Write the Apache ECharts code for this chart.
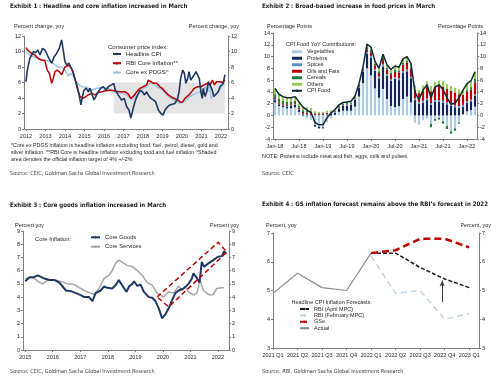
<!DOCTYPE html>
<html><head><meta charset="utf-8">
<script src="https://cdn.jsdelivr.net/npm/echarts@6/dist/echarts.min.js"></script>
<style>html,body{margin:0;padding:0;background:#fff}#c{width:500px;height:387px}</style>
</head><body><div id="c"></div>
<script>
// ---------- Exhibit 1 data (decimal year, % yoy) ----------
const years1 = [2012,2013,2014,2015,2016,2017,2018,2019,2020,2021,2022];
const headlineCPI = [[2012.0,6.1],[2012.07,7.6],[2012.2,9.1],[2012.38,10.0],[2012.5,9.85],[2012.6,10.2],[2012.72,9.55],[2012.85,10.4],[2012.97,10.2],[2013.06,10.0],[2013.2,9.0],[2013.32,8.5],[2013.44,9.3],[2013.57,9.75],[2013.71,10.4],[2013.83,11.5],[2013.91,10.2],[2014.0,8.7],[2014.09,8.25],[2014.2,8.5],[2014.3,8.0],[2014.43,7.2],[2014.53,7.0],[2014.63,5.5],[2014.74,4.2],[2014.82,3.1],[2014.9,4.2],[2014.97,5.0],[2015.08,5.25],[2015.2,4.8],[2015.28,5.25],[2015.38,5.0],[2015.49,3.75],[2015.59,3.95],[2015.71,4.8],[2015.83,5.25],[2015.97,5.45],[2016.1,5.0],[2016.22,5.45],[2016.39,5.7],[2016.5,5.9],[2016.58,5.0],[2016.73,4.4],[2016.9,3.75],[2017.04,3.95],[2017.16,2.9],[2017.28,2.45],[2017.38,1.4],[2017.5,2.7],[2017.62,3.75],[2017.73,4.4],[2017.85,5.0],[2017.97,4.8],[2018.07,4.4],[2018.19,4.8],[2018.27,4.4],[2018.41,3.95],[2018.53,3.75],[2018.65,3.5],[2018.79,2.45],[2018.92,2.0],[2019.04,1.8],[2019.13,2.45],[2019.27,2.9],[2019.38,3.1],[2019.5,3.2],[2019.64,3.3],[2019.78,3.95],[2019.85,4.8],[2019.93,6.5],[2020.04,7.6],[2020.12,7.2],[2020.2,5.9],[2020.29,6.5],[2020.36,7.4],[2020.45,6.3],[2020.55,6.5],[2020.63,7.0],[2020.72,7.4],[2020.8,7.6],[2020.89,6.5],[2020.97,4.8],[2021.04,3.95],[2021.09,5.25],[2021.18,4.2],[2021.27,4.8],[2021.35,6.1],[2021.44,5.9],[2021.52,5.25],[2021.64,4.2],[2021.74,4.4],[2021.86,4.8],[2021.95,5.45],[2022.04,5.7],[2022.12,5.9],[2022.2,7.0]];
const rbiCore = [[2012.0,10.5],[2012.12,10.1],[2012.29,9.75],[2012.46,9.55],[2012.63,9.1],[2012.8,8.9],[2012.97,8.8],[2013.09,7.6],[2013.2,7.2],[2013.32,5.9],[2013.4,6.5],[2013.49,7.4],[2013.6,7.6],[2013.71,7.4],[2013.83,7.0],[2013.91,6.75],[2014.0,8.0],[2014.09,8.0],[2014.2,8.25],[2014.29,8.4],[2014.39,7.6],[2014.51,6.5],[2014.63,5.25],[2014.77,4.2],[2014.9,3.95],[2015.03,4.1],[2015.2,4.4],[2015.37,4.6],[2015.54,4.4],[2015.71,4.7],[2015.88,4.8],[2016.1,4.95],[2016.3,5.0],[2016.56,4.9],[2016.82,4.8],[2017.08,4.8],[2017.25,4.5],[2017.38,3.95],[2017.5,4.2],[2017.68,4.8],[2017.85,5.25],[2018.02,5.45],[2018.19,5.7],[2018.27,6.3],[2018.41,6.1],[2018.53,5.9],[2018.7,5.9],[2018.87,5.45],[2018.99,5.25],[2019.13,4.8],[2019.3,4.4],[2019.47,4.1],[2019.64,3.9],[2019.78,3.75],[2019.9,3.5],[2020.04,3.5],[2020.15,3.95],[2020.24,3.75],[2020.36,4.4],[2020.5,4.8],[2020.63,5.25],[2020.8,5.45],[2020.97,5.45],[2021.14,5.7],[2021.32,5.9],[2021.44,5.7],[2021.56,6.3],[2021.66,5.7],[2021.78,6.1],[2021.95,6.1],[2022.07,6.0],[2022.2,6.3]];
const coreExPDGS = [[2012.0,10.0],[2012.2,9.55],[2012.46,9.3],[2012.72,9.0],[2012.97,8.9],[2013.23,8.7],[2013.4,8.5],[2013.6,8.0],[2013.83,8.0],[2014.0,7.6],[2014.17,6.85],[2014.29,7.2],[2014.43,6.85],[2014.56,6.1],[2014.74,5.7],[2014.9,5.45],[2015.1,5.4],[2015.37,5.0],[2015.63,5.25],[2015.88,5.35],[2016.15,5.25],[2016.39,5.1],[2016.65,4.8],[2016.99,4.6],[2017.25,4.2],[2017.42,3.75],[2017.59,4.1],[2017.8,4.6],[2018.02,5.25],[2018.19,5.45],[2018.36,5.9],[2018.53,6.0],[2018.7,5.45],[2018.87,5.25],[2019.04,5.0],[2019.21,4.4],[2019.38,4.1],[2019.55,3.8],[2019.72,3.5],[2019.9,3.3],[2020.07,3.5],[2020.24,3.75],[2020.41,4.2],[2020.58,4.4],[2020.75,4.6],[2020.92,4.8],[2021.09,5.0],[2021.21,5.45],[2021.32,4.8],[2021.4,5.9],[2021.49,3.95],[2021.61,4.4],[2021.78,4.6],[2021.95,5.25],[2022.12,5.7],[2022.2,5.7]];
const targetBand = [2016.5, 2022.2]; // years
const targetRange = [2, 6];         // % (4% +/- 2%)

// ---------- Exhibit 2 data (percentage points) ----------
const months = ['Jan-18','Feb-18','Mar-18','Apr-18','May-18','Jun-18','Jul-18','Aug-18','Sep-18','Oct-18','Nov-18','Dec-18',
 'Jan-19','Feb-19','Mar-19','Apr-19','May-19','Jun-19','Jul-19','Aug-19','Sep-19','Oct-19','Nov-19','Dec-19',
 'Jan-20','Feb-20','Mar-20','Apr-20','May-20','Jun-20','Jul-20','Aug-20','Sep-20','Oct-20','Nov-20','Dec-20',
 'Jan-21','Feb-21','Mar-21','Apr-21','May-21','Jun-21','Jul-21','Aug-21','Sep-21','Oct-21','Nov-21','Dec-21',
 'Jan-22','Feb-22','Mar-22'];
const vegetables = [2.2,1.6,1.4,1.2,1.2,1.4,0.6,-0.2,-0.5,-0.8,-1.6,-1.9,-2.0,-1.2,-0.5,0.1,0.6,0.8,0.8,0.8,1.5,3.2,5.5,8.0,6.8,4.6,3.0,4.5,2.8,1.6,1.4,1.6,2.8,3.2,2.2,-1.2,-1.6,-0.8,-0.6,-1.4,-0.6,-0.4,-1.0,-1.8,-2.7,-2.2,-1.2,0.2,0.7,0.9,1.5];
const proteins = [0.4,0.3,0.2,0.3,0.4,0.4,0.4,0.2,0.1,0.0,-0.3,-0.3,-0.2,0.1,0.3,0.4,0.6,0.8,0.9,1.0,1.2,1.5,1.9,2.5,3.0,3.0,3.3,3.8,3.9,4.3,4.8,4.4,4.4,4.3,4.1,2.6,2.0,2.2,2.6,1.8,2.3,2.3,2.2,1.9,1.6,1.4,1.3,1.3,1.4,1.5,1.8];
const spices = [0.2,0.1,0.1,0.1,0.1,0.1,0.1,0.1,0.1,0.1,0.1,0.1,0.1,0.1,0.1,0.1,0.1,0.1,0.1,0.1,0.1,0.1,0.2,0.3,0.3,0.3,0.3,0.4,0.3,0.3,0.3,0.3,0.3,0.3,0.3,0.3,0.3,0.3,0.3,0.3,0.3,0.3,0.3,0.3,0.3,0.3,0.3,0.3,0.3,0.3,0.3];
const oilsFats = [0.2,0.2,0.2,0.2,0.2,0.2,0.2,0.3,0.3,0.3,0.2,0.2,0.2,0.2,0.1,0.1,0.1,0.1,0.1,0.1,0.1,0.1,0.2,0.4,0.6,0.6,0.6,0.7,0.8,0.8,0.9,1.0,1.1,1.2,1.3,1.4,1.5,1.7,1.9,2.0,2.2,2.4,2.4,2.3,2.3,2.2,2.0,1.7,1.6,1.7,2.0];
const cereals = [0.6,0.6,0.6,0.5,0.4,0.4,0.3,0.3,0.3,0.3,0.2,0.1,0.1,0.1,0.1,0.1,0.2,0.2,0.2,0.2,0.2,0.3,0.2,0.4,0.4,0.3,0.3,0.4,0.3,0.3,0.4,0.3,0.3,0.3,0.2,0.1,0.0,0.1,0.1,-0.6,-0.3,-0.3,-0.4,-0.5,-0.4,-0.4,-0.2,0.0,0.3,0.4,0.6];
const others = [1.0,0.8,0.7,0.7,0.7,0.7,0.7,0.5,0.6,0.6,0.2,0.2,0.2,0.3,0.3,0.2,0.2,0.2,0.2,0.2,0.2,0.2,0.2,0.5,0.5,0.4,0.5,0.6,0.5,0.5,0.6,0.6,0.7,0.7,0.7,0.7,0.5,0.8,0.9,0.9,0.9,0.9,0.9,0.8,0.8,0.8,0.8,0.8,1.1,1.1,1.2];
const cpiFood = [4.6,3.6,3.2,3.0,3.0,3.2,2.3,1.4,0.9,0.5,-1.2,-1.6,-1.6,-0.4,0.4,1.0,1.8,2.2,2.3,2.4,3.3,5.4,8.2,12.1,11.6,9.2,8.0,10.4,8.6,7.8,8.4,8.2,9.6,10.0,8.8,3.9,2.7,4.3,5.2,3.0,4.8,5.2,4.4,3.0,1.9,2.1,3.0,4.3,5.4,5.9,7.4];

// ---------- Exhibit 3 data (decimal year, % yoy) ----------
const years3 = [2015,2016,2017,2018,2019,2020,2021,2022];
const coreGoods = [[2015.0,5.2],[2015.16,5.5],[2015.3,5.5],[2015.46,5.65],[2015.64,5.45],[2015.88,5.3],[2016.06,5.3],[2016.24,5.1],[2016.48,4.5],[2016.66,4.45],[2016.84,4.3],[2017.02,4.15],[2017.14,4.0],[2017.32,4.0],[2017.44,3.7],[2017.56,4.3],[2017.74,4.5],[2017.86,4.8],[2017.98,4.7],[2018.16,4.65],[2018.28,4.9],[2018.4,5.3],[2018.52,4.9],[2018.68,4.4],[2018.77,4.8],[2018.89,5.0],[2018.95,5.2],[2019.07,4.85],[2019.19,4.95],[2019.31,4.4],[2019.49,4.0],[2019.61,3.95],[2019.73,3.7],[2019.85,3.15],[2019.97,2.4],[2020.09,2.7],[2020.21,3.15],[2020.33,3.75],[2020.45,4.3],[2020.57,4.5],[2020.75,4.65],[2020.93,5.0],[2021.05,5.4],[2021.11,5.8],[2021.23,5.45],[2021.33,5.1],[2021.41,6.65],[2021.5,6.3],[2021.65,6.55],[2021.83,6.8],[2022.0,7.05],[2022.14,7.1],[2022.22,7.45],[2022.3,7.3]];
const coreServices = [[2015.0,5.4],[2015.16,5.5],[2015.34,5.4],[2015.52,5.1],[2015.64,5.0],[2015.82,5.3],[2016.06,5.3],[2016.36,5.15],[2016.54,5.0],[2016.72,5.0],[2016.9,4.8],[2017.14,4.5],[2017.38,4.3],[2017.5,4.2],[2017.68,4.65],[2017.86,5.4],[2018.04,5.65],[2018.16,6.0],[2018.28,6.55],[2018.4,6.8],[2018.52,6.65],[2018.7,6.4],[2018.89,6.3],[2019.07,6.0],[2019.25,5.65],[2019.43,5.1],[2019.61,4.9],[2019.79,4.3],[2019.91,4.15],[2020.03,4.0],[2020.21,4.4],[2020.39,4.3],[2020.57,4.85],[2020.69,4.5],[2020.81,4.8],[2020.93,4.4],[2021.11,4.15],[2021.23,4.3],[2021.35,5.3],[2021.47,4.5],[2021.59,4.3],[2021.71,4.15],[2021.83,4.2],[2021.95,4.65],[2022.13,4.7],[2022.22,4.7]];
const trendBox = [[2019.79,4.01],[2022.01,8.15],[2022.32,7.4],[2020.21,3.26],[2019.79,4.01]];

// ---------- Exhibit 4 data (% yoy, quarterly) ----------
const quarterLabels = ['2021 Q1','2021 Q2','2021 Q3','2021 Q4','2022 Q1','2022 Q2','2022 Q3','2022 Q4','2023 Q1'];
const actual = [4.9,5.6,5.1,5.0,6.3];          // 2021 Q1 .. 2022 Q1
const rbiApril = [6.3,6.3,5.8,5.4,5.1];        // 2022 Q1 .. 2023 Q1
const rbiFeb = [6.2,4.9,5.0,4.0,4.2];          // 2022 Q1 .. 2023 Q1
const gsForecast = [6.3,6.4,6.8,6.8,6.5];      // 2022 Q1 .. 2023 Q1
const forecastStart = 4;
const arrowAt = 6.9, arrowRange = [4.6, 5.35];

// ---------- chart ----------
const SANS = "'Liberation Sans', Arial, sans-serif";
const NARROW = "'Liberation Sans Narrow', 'Arial Narrow', 'DejaVu Sans Condensed', sans-serif";
const AX = '#808080', TXT = '#262626';

function yAx(gi, min, max, interval, pos) {
  return { type:'value', gridIndex:gi, position:pos, min, max, interval,
    splitLine:{show:false},
    axisLine:{show:true, onZero:false, lineStyle:{color:AX, width:1}},
    axisTick:{show:true, length:2, lineStyle:{color:AX}},
    axisLabel:{fontSize:5.5, color:TXT, margin:3, fontFamily:SANS} };
}
function xVal(gi, min, max, ticks, fmt) {
  return { type:'value', gridIndex:gi, min, max,
    splitLine:{show:false},
    axisLine:{show:true, onZero:false, lineStyle:{color:AX, width:1}},
    axisTick:{show:true, length:2, customValues:ticks, lineStyle:{color:AX}},
    axisLabel:{customValues:ticks, formatter:fmt, fontSize:5.5, color:TXT, margin:4, fontFamily:SANS} };
}
function txt(text, pos, size, extra) {
  return Object.assign({ text, padding:0, itemGap:0,
    textStyle:Object.assign({ fontSize:size, fontWeight:'normal', color:TXT, fontFamily:SANS }, (extra && extra.ts) || {}) }, pos);
}
function line(name, data, xi, yi, color, width, type, z) {
  return { type:'line', name, data, xAxisIndex:xi, yAxisIndex:yi, symbol:'none', silent:true, z:z||2,
    lineStyle:{color, width, type:type||'solid'}, itemStyle:{color} };
}
function bar(name, data, color) {
  return { type:'bar', name, data, xAxisIndex:1, yAxisIndex:2, stack:'food', barWidth:'55%',
    itemStyle:{color}, silent:true };
}
const legendText = (fs, lh) => ({ fontSize:fs, lineHeight:lh, color:TXT, fontFamily:SANS });
const bold = { fontWeight:'bold', fontFamily:NARROW, color:'#1a1a1a' };
const src = { fontFamily:NARROW, color:'#404040' };

const option = {
  animation:false,
  backgroundColor:'#fff',
  title:[
    txt('Exhibit 1 : Headline and core inflation increased in March', {left:10, top:3}, 6.1, {ts:bold}),
    txt('Exhibit 2 : Broad-based increase in food prices in March', {left:262, top:3}, 6.1, {ts:bold}),
    txt('Exhibit 3 : Core goods inflation increased in March', {left:10, top:202}, 6.1, {ts:bold}),
    txt('Exhibit 4 : GS inflation forecast remains above the RBI\u2019s forecast in 2022', {left:262, top:201.5}, 6.1, {ts:bold}),
    txt('Percent change, yoy', {left:14, top:23.5}, 5.5),
    txt('Percent change, yoy', {right:261, top:23.5}, 5.5),
    txt('Percentage Points', {left:267, top:23}, 5.5),
    txt('Percentage Points', {right:17, top:23}, 5.5),
    txt('Percent yoy', {left:15, top:222}, 5.5),
    txt('Percent yoy', {right:261, top:222}, 5.5),
    txt('Percent, yoy', {left:266, top:222.5}, 5.5),
    txt('Percent, yoy', {right:9, top:222.5}, 5.5),
    txt('*Core ex PDGS inflation is headline inflation excluding food, fuel, petrol, diesel, gold and\nsilver inflation. **RBI Core is headline inflation excluding food and fuel inflation ^Shaded\narea denotes the official inflation target of 4% +/-2%', {left:11, top:142.6}, 5.3, {ts:{lineHeight:6.8}}),
    txt('NOTE: Proteins include meat and fish, eggs, milk and pulses.', {left:262, top:154}, 5.4),
    txt('Source: CEIC, Goldman Sachs Global Investment Research', {left:10, top:171}, 5.5, {ts:src}),
    txt('Source: CEIC', {left:262, top:171}, 5.5, {ts:src}),
    txt('Source: CEIC, Goldman Sachs Global Investment Research', {left:10, top:369}, 5.5, {ts:src}),
    txt('Source: RBI, Goldman Sachs Global Investment Research', {left:262, top:369}, 5.5, {ts:src}),
    txt('Consumer price index:', {left:108, top:44.5}, 6),
    txt('CPI Food YoY Contributions:', {left:286, top:41.3}, 5.5),
    txt('Core Inflation:', {left:35, top:236}, 5.8),
    txt('Headline CPI Inflation Forecasts:', {left:291.5, top:299}, 5.5)
  ],
  legend:[
    { left:112, top:49.3, orient:'vertical', itemWidth:8, itemHeight:3, itemGap:0, padding:0, selectedMode:false,
      textStyle:legendText(6, 9.3), data:['Headline CPI','RBI Core Inflation**','Core ex PDGS^'] },
    { left:291, top:48.5, orient:'vertical', itemWidth:10, itemHeight:3, itemGap:0, padding:0, selectedMode:false,
      textStyle:legendText(5.5, 6.5),
      data:[{name:'Vegetables',icon:'rect'},{name:'Proteins',icon:'rect'},{name:'Spices',icon:'rect'},{name:'Oils and Fats',icon:'rect'},{name:'Cereals',icon:'rect'},{name:'Others',icon:'rect'},'CPI Food'] },
    { left:90, top:232.6, orient:'vertical', itemWidth:9, itemHeight:3, itemGap:0, padding:0, selectedMode:false,
      textStyle:legendText(5.8, 9.4), data:['Core Goods','Core Services'] },
    { left:299, top:305.8, orient:'vertical', itemWidth:9, itemHeight:3, itemGap:0, padding:0, selectedMode:false,
      textStyle:legendText(5.5, 6.4), data:['RBI (April MPC)','RBI (February MPC)','GSe','Actual'] }
  ],
  grid:[
    {left:24, top:36, width:204, height:93},
    {left:273, top:33, width:204, height:106},
    {left:23, top:231, width:206, height:119},
    {left:273, top:233, width:206, height:115}
  ],
  xAxis:[
    xVal(0, 2011.9, 2022.36, years1, v => String(Math.round(v))),
    { type:'category', gridIndex:1, data:months, boundaryGap:true,
      axisLine:{show:true, onZero:false, lineStyle:{color:AX}},
      axisTick:{show:true, interval:5, alignWithLabel:true, length:2, lineStyle:{color:AX}},
      axisLabel:{interval:5, fontSize:5.5, color:TXT, margin:4, fontFamily:SANS} },
    xVal(2, 2014.92, 2022.4, years3, v => String(Math.round(v))),
    xVal(3, 0, 8.4, quarterLabels.map((q,i)=>i), v => quarterLabels[Math.round(v)] || '')
  ],
  yAxis:[
    yAx(0, 0, 12, 2, 'left'), yAx(0, 0, 12, 2, 'right'),
    yAx(1, -4, 14, 2, 'left'), yAx(1, -4, 14, 2, 'right'),
    yAx(2, 0, 9, 1, 'left'), yAx(2, 0, 9, 1, 'right'),
    yAx(3, 3, 7, 1, 'left'), yAx(3, 3, 7, 1, 'right')
  ],
  series:[
    // Exhibit 1
    Object.assign(line('Core ex PDGS^', coreExPDGS, 0, 0, '#9dc3e6', 1.5), {
      markArea:{silent:true, itemStyle:{color:'#e4e4e4'},
        data:[[{coord:[targetBand[0], targetRange[0]]},{coord:[targetBand[1], targetRange[1]]}]]}
    }),
    line('RBI Core Inflation**', rbiCore, 0, 0, '#c00000', 1.5),
    line('Headline CPI', headlineCPI, 0, 0, '#1f3864', 1.6),
    // Exhibit 2
    bar('Vegetables', vegetables, '#a9cbe6'),
    bar('Proteins', proteins, '#10295a'),
    bar('Spices', spices, '#5b8fc9'),
    bar('Oils and Fats', oilsFats, '#c00000'),
    bar('Cereals', cereals, '#1e7b3c'),
    bar('Others', others, '#92d050'),
    Object.assign(line('CPI Food', cpiFood, 1, 2, '#0f2a3a', 1.5), {z:5}),
    // Exhibit 3
    line('Core Services', coreServices, 2, 4, '#a6a6a6', 1.5),
    line('Core Goods', coreGoods, 2, 4, '#1f3864', 2),
    line('trend', trendBox, 2, 4, '#c00000', 1.5, [5,3], 4),
    // Exhibit 4
    line('Actual', actual.map((v,i)=>[i,v]), 3, 6, '#8c8c8c', 1.2),
    line('RBI (February MPC)', rbiFeb.map((v,i)=>[i+forecastStart,v]), 3, 6, '#bfd6dd', 1.5, [6,4]),
    line('RBI (April MPC)', rbiApril.map((v,i)=>[i+forecastStart,v]), 3, 6, '#1a1a1a', 1.5, [4,2]),
    Object.assign(line('GSe', gsForecast.map((v,i)=>[i+forecastStart,v]), 3, 6, '#c00000', 2.5, [7,4]), {
      markLine:{silent:true, symbol:['none','arrow'], symbolSize:[4,6], label:{show:false},
        lineStyle:{color:'#404040', width:1, type:'solid'},
        data:[[{coord:[arrowAt, arrowRange[0]]},{coord:[arrowAt, arrowRange[1]]}]]}
    })
  ]
};
const chart = echarts.init(document.getElementById('c'), null, {renderer:'canvas'});
chart.setOption(option);
</script></body></html>
